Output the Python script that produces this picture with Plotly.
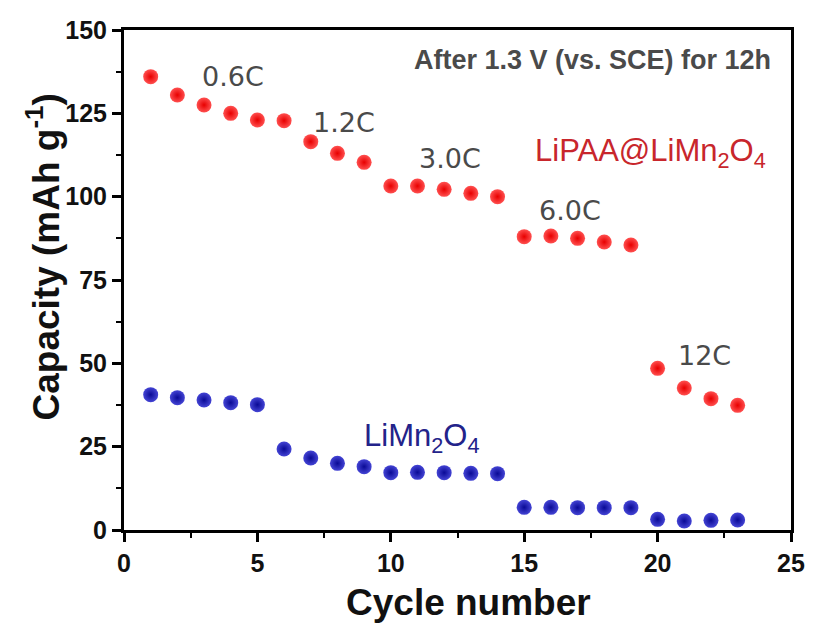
import plotly.graph_objects as go

cycles = list(range(1, 24))
lipaa = [136, 130.5, 127.5, 125, 123, 122.8, 116.5, 113, 110.3, 103.2, 103.2, 102.2, 101, 100, 88, 88.2, 87.5, 86.4, 85.5, 48.5, 42.6, 39.4, 37.4]
limn = [40.6, 39.7, 39.0, 38.2, 37.6, 24.3, 21.6, 20.0, 19.0, 17.2, 17.3, 17.2, 17.0, 16.9, 6.8, 6.8, 6.7, 6.7, 6.7, 3.2, 2.7, 2.9, 3.0]

rate_labels = ["0.6C", "1.2C", "3.0C", "6.0C", "12C"]
rate_x = [4.1, 8.23, 12.22, 16.7, 21.76]
rate_y = [136.2, 122.4, 111.6, 96, 52.5]

font = "Liberation Sans, Arial, sans-serif"

fig = go.Figure()
fig.add_trace(go.Scatter(
    x=cycles, y=lipaa, mode="markers", name="LiPAA@LiMn2O4",
    marker=dict(size=15, color="#ff5050", gradient=dict(type="radial", color="#e80000"),
                line=dict(width=0))))
fig.add_trace(go.Scatter(
    x=cycles, y=limn, mode="markers", name="LiMn2O4",
    marker=dict(size=15, color="#4444d4", gradient=dict(type="radial", color="#0a0a96"),
                line=dict(width=0))))

for t, xx, yy in zip(rate_labels, rate_x, rate_y):
    fig.add_annotation(x=xx, y=yy, text=t, showarrow=False,
                       font=dict(family="DejaVu Sans, sans-serif", size=27, color="#4a4a4a"))

fig.add_annotation(x=17.55, y=141, text="<b>After 1.3 V (vs. SCE) for 12h</b>", showarrow=False,
                   font=dict(family=font, size=27, color="#4a4a4a"))
fig.add_annotation(x=19.75, y=113, text="LiPAA@LiMn<sub>2</sub>O<sub>4</sub>", showarrow=False,
                   font=dict(family=font, size=31, color="#c8262c"))
fig.add_annotation(x=11.14, y=27.6, text="LiMn<sub>2</sub>O<sub>4</sub>", showarrow=False,
                   font=dict(family=font, size=31, color="#23238a"))

# axis titles as annotations for exact placement
fig.add_annotation(xref="paper", yref="paper", x=-0.12, y=0.547, textangle=-90,
                   xanchor="center", yanchor="middle",
                   text="<b>Capacity (mAh g<sup>-1</sup>)</b>", showarrow=False,
                   font=dict(family=font, size=37, color="#111"))
fig.add_annotation(xref="paper", yref="paper", x=0.517, y=-0.144,
                   xanchor="center", yanchor="middle",
                   text="<b>Cycle number</b>", showarrow=False,
                   font=dict(family=font, size=37, color="#111"))

axis_common = dict(
    showline=True, linecolor="black", linewidth=3, mirror=True,
    ticks="outside", ticklen=9, tickwidth=2.5, tickcolor="black",
    showgrid=False, zeroline=False,
    tickfont=dict(family=font, size=25, color="#111", weight="bold"),
)

fig.update_xaxes(range=[0, 25], tickvals=[0, 5, 10, 15, 20, 25],
                 minor=dict(ticks="outside", ticklen=5, tickwidth=2, tickcolor="black", dtick=2.5, tick0=0),
                 **axis_common)
fig.update_yaxes(range=[0, 150], tickvals=[0, 25, 50, 75, 100, 125, 150],
                 minor=dict(ticks="outside", ticklen=5, tickwidth=2, tickcolor="black", dtick=12.5, tick0=0),
                 **axis_common)

fig.update_layout(
    width=817, height=624,
    margin=dict(l=124, r=22, t=30, b=94),
    plot_bgcolor="white", paper_bgcolor="white",
    showlegend=False,
)

fig.write_html("out.html")
